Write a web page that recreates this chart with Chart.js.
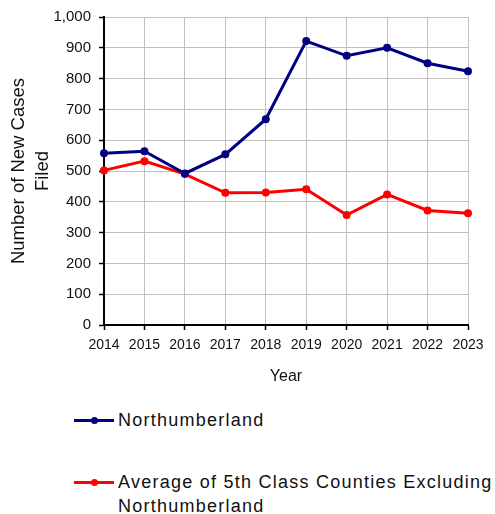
<!DOCTYPE html>
<html>
<head>
<meta charset="utf-8">
<script src="https://cdn.jsdelivr.net/npm/chart.js@4"></script>
<style>
  html, body { margin: 0; padding: 0; background: #fff; }
  #wrap { position: relative; width: 495px; height: 514px; font-family: "Liberation Sans", Arial, sans-serif; }
  #c { position: absolute; left: 0; top: 0; }
  .lg { position: absolute; left: 74px; display: flex; align-items: flex-start; font-size: 18px; line-height: 24px; color: #111; letter-spacing: 1.25px; }
  .sw { position: relative; width: 40px; height: 24px; margin-right: 4px; flex: none; }
  .sw .ln { position: absolute; left: 0; right: 0; top: 10.5px; height: 3px; }
  .sw .dt { position: absolute; left: 16.5px; top: 8.5px; width: 7px; height: 7px; border-radius: 50%; }
  .tx { width: 377px; }
</style>
</head>
<body>
<div id="wrap">
  <canvas id="c" width="495" height="395"></canvas>
  <div id="legend"></div>
</div>
<script>
const years = ['2014','2015','2016','2017','2018','2019','2020','2021','2022','2023'];
const northumberland = [558, 564, 492, 554, 668, 922, 874, 900, 850, 824];
const avgFifthClass = [502, 532, 490, 429, 430, 441, 357, 424, 372, 363];
const seriesNames = ['Northumberland', 'Average of 5th Class Counties Excluding Northumberland'];
const seriesColors = ['#000080', '#ff0000'];
const yTitle = ['Number of New Cases', 'Filed'];
const xTitle = 'Year';

const font = 'Liberation Sans, Arial, sans-serif';

const chart = new Chart(document.getElementById('c'), {
  type: 'line',
  data: {
    labels: years,
    datasets: [northumberland, avgFifthClass].map((d, i) => ({
      label: seriesNames[i],
      data: d,
      borderColor: seriesColors[i],
      backgroundColor: seriesColors[i],
      borderWidth: 3,
      pointRadius: 4,
      pointBorderWidth: 0,
      pointHoverRadius: 4,
      tension: 0,
      fill: false
    }))
  },
  options: {
    responsive: false,
    animation: false,
    layout: { padding: { top: 17, right: 27, bottom: 0, left: 0 } },
    plugins: { legend: { display: false }, tooltip: { enabled: false } },
    scales: {
      x: {
        offset: false,
        grid: { color: '#c0c0c0', lineWidth: 1, tickColor: '#000', tickLength: 5, tickWidth: 1.5 },
        border: { color: '#000', width: 2 },
        ticks: { color: '#111', font: { family: font, size: 14 }, padding: 7, maxRotation: 0, autoSkip: false },
        title: { display: true, text: xTitle, color: '#111', font: { family: font, size: 16 }, padding: { top: 0, bottom: 9 } },
        afterFit(s) { s.height = 70; }
      },
      y: {
        min: 0, max: 1000,
        grid: { color: '#c0c0c0', lineWidth: 1, tickColor: '#000', tickLength: 5, tickWidth: 1.5 },
        border: { color: '#000', width: 2 },
        ticks: { stepSize: 100, color: '#111', font: { family: font, size: 15 }, padding: 8,
                 callback: v => v.toLocaleString('en-US') },
        title: { display: true, text: yTitle, color: '#111', font: { family: font, size: 18.5, lineHeight: 1.3 }, padding: { top: 7, bottom: 0 } },
        afterFit(s) { s.width = 104; }
      }
    }
  }
});

// HTML legend built from the chart's datasets
const legend = document.getElementById('legend');
const tops = [408, 470];
chart.data.datasets.forEach((ds, i) => {
  const item = document.createElement('div');
  item.className = 'lg';
  item.style.top = tops[i] + 'px';
  item.innerHTML = '<div class="sw"><div class="ln" style="background:' + ds.borderColor + '"></div><div class="dt" style="background:' + ds.borderColor + '"></div></div>';
  const t = document.createElement('div');
  t.className = 'tx';
  t.textContent = ds.label;
  item.appendChild(t);
  legend.appendChild(item);
});
</script>
</body>
</html>
